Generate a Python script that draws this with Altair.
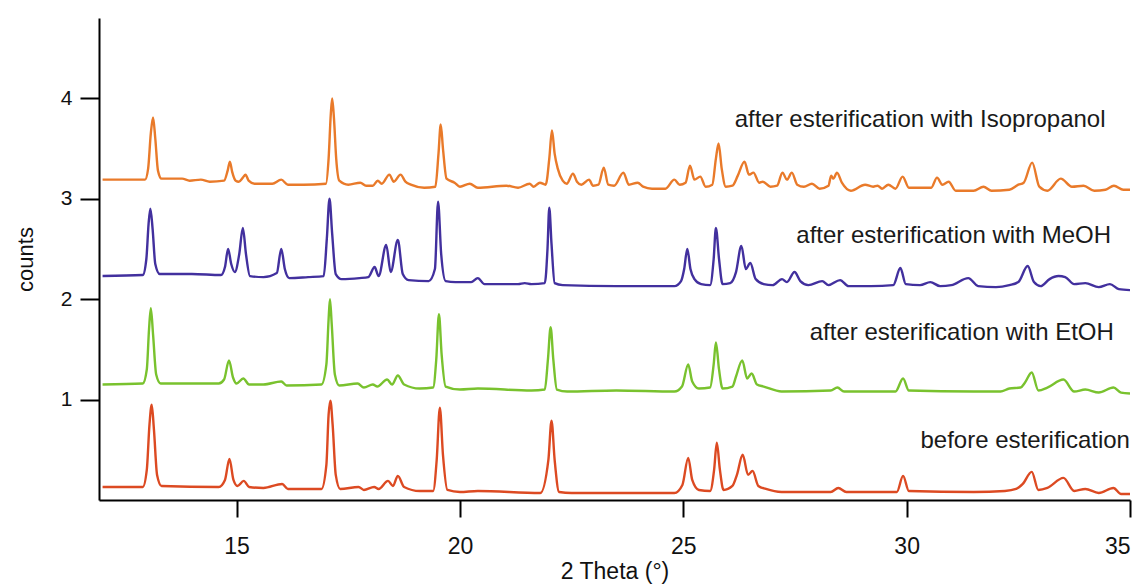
import altair as alt
import pandas as pd

# ---- data (2 Theta in degrees, counts offset per pattern) ----
ISOPROPANOL = [
    (12.00, 3.19), (12.60, 3.19), (12.95, 3.19), (13.02, 3.30), (13.08, 3.65), (13.13, 3.81),
    (13.18, 3.60), (13.24, 3.28), (13.32, 3.20), (13.78, 3.20), (13.95, 3.18), (14.20, 3.19),
    (14.40, 3.17), (14.72, 3.18), (14.80, 3.28), (14.85, 3.37), (14.90, 3.27), (14.98, 3.18),
    (15.05, 3.17), (15.14, 3.21), (15.20, 3.24), (15.27, 3.18), (15.40, 3.15), (15.80, 3.15),
    (16.00, 3.19), (16.15, 3.14), (16.50, 3.14), (17.00, 3.15), (17.06, 3.40), (17.11, 3.85),
    (17.14, 4.00), (17.18, 3.80), (17.23, 3.40), (17.30, 3.18), (17.50, 3.14), (17.77, 3.16),
    (17.90, 3.13), (18.05, 3.13), (18.16, 3.18), (18.25, 3.15), (18.42, 3.24), (18.52, 3.17),
    (18.67, 3.24), (18.78, 3.17), (18.90, 3.14), (19.20, 3.11), (19.45, 3.12), (19.52, 3.45),
    (19.57, 3.74), (19.62, 3.50), (19.70, 3.20), (19.88, 3.16), (20.00, 3.12), (20.22, 3.15),
    (20.40, 3.11), (21.04, 3.13), (21.30, 3.11), (21.56, 3.15), (21.65, 3.12), (21.79, 3.16),
    (21.92, 3.14), (22.00, 3.40), (22.06, 3.68), (22.12, 3.45), (22.19, 3.30), (22.30, 3.18),
    (22.39, 3.15), (22.53, 3.25), (22.62, 3.17), (22.72, 3.14), (22.89, 3.19), (22.98, 3.13),
    (23.10, 3.14), (23.22, 3.31), (23.32, 3.14), (23.45, 3.13), (23.66, 3.26), (23.78, 3.14),
    (23.98, 3.16), (24.10, 3.12), (24.30, 3.10), (24.60, 3.10), (24.80, 3.19), (24.92, 3.14),
    (25.05, 3.16), (25.15, 3.33), (25.25, 3.19), (25.38, 3.22), (25.50, 3.12), (25.65, 3.14),
    (25.73, 3.40), (25.79, 3.55), (25.86, 3.30), (25.95, 3.12), (26.10, 3.13), (26.22, 3.23),
    (26.37, 3.37), (26.47, 3.24), (26.57, 3.26), (26.70, 3.16), (26.78, 3.17), (26.95, 3.12),
    (27.10, 3.13), (27.22, 3.26), (27.32, 3.19), (27.43, 3.26), (27.55, 3.14), (27.70, 3.12),
    (27.88, 3.15), (28.05, 3.10), (28.25, 3.13), (28.31, 3.23), (28.36, 3.20), (28.44, 3.26),
    (28.55, 3.16), (28.75, 3.08), (29.07, 3.14), (29.25, 3.12), (29.35, 3.13), (29.45, 3.10),
    (29.59, 3.14), (29.75, 3.10), (29.91, 3.22), (30.05, 3.11), (30.30, 3.11), (30.55, 3.11),
    (30.68, 3.21), (30.80, 3.14), (30.94, 3.17), (31.10, 3.08), (31.50, 3.08), (31.72, 3.12),
    (31.90, 3.08), (32.30, 3.09), (32.50, 3.14), (32.62, 3.16), (32.81, 3.36), (32.97, 3.12),
    (33.15, 3.08), (33.45, 3.20), (33.70, 3.12), (33.96, 3.13), (34.20, 3.08), (34.45, 3.09),
    (34.64, 3.13), (34.85, 3.09), (35.00, 3.09),
]

MEOH = [
    (12.00, 2.23), (12.90, 2.24), (12.98, 2.40), (13.03, 2.75), (13.07, 2.90), (13.12, 2.70),
    (13.18, 2.35), (13.28, 2.25), (14.00, 2.25), (14.65, 2.24), (14.74, 2.32), (14.81, 2.50),
    (14.88, 2.35), (14.96, 2.27), (15.06, 2.45), (15.14, 2.71), (15.21, 2.45), (15.30, 2.23),
    (15.60, 2.22), (15.90, 2.26), (16.00, 2.50), (16.08, 2.30), (16.18, 2.21), (16.60, 2.22),
    (16.95, 2.23), (17.02, 2.60), (17.08, 3.00), (17.14, 2.65), (17.22, 2.25), (17.35, 2.20),
    (17.75, 2.21), (17.95, 2.22), (18.09, 2.32), (18.18, 2.23), (18.35, 2.54), (18.45, 2.27),
    (18.61, 2.59), (18.72, 2.25), (18.85, 2.19), (19.30, 2.18), (19.44, 2.30), (19.51, 2.97),
    (19.58, 2.45), (19.68, 2.18), (19.90, 2.17), (20.25, 2.17), (20.40, 2.21), (20.55, 2.15),
    (21.30, 2.15), (21.45, 2.16), (21.60, 2.15), (21.90, 2.16), (21.96, 2.50), (22.00, 2.91),
    (22.05, 2.55), (22.12, 2.16), (22.30, 2.14), (23.50, 2.13), (24.80, 2.13), (24.95, 2.18),
    (25.02, 2.30), (25.09, 2.50), (25.16, 2.30), (25.25, 2.20), (25.40, 2.15), (25.60, 2.14),
    (25.68, 2.40), (25.73, 2.71), (25.80, 2.40), (25.88, 2.15), (26.05, 2.16), (26.18, 2.27),
    (26.30, 2.53), (26.40, 2.30), (26.50, 2.36), (26.62, 2.20), (26.80, 2.15), (27.00, 2.14),
    (27.21, 2.20), (27.32, 2.17), (27.49, 2.27), (27.62, 2.18), (27.80, 2.14), (28.11, 2.18),
    (28.25, 2.14), (28.51, 2.19), (28.70, 2.13), (29.20, 2.13), (29.70, 2.14), (29.86, 2.31),
    (29.98, 2.15), (30.30, 2.14), (30.53, 2.17), (30.75, 2.13), (31.00, 2.14), (31.38, 2.21),
    (31.60, 2.13), (32.00, 2.12), (32.30, 2.14), (32.50, 2.17), (32.71, 2.33), (32.85, 2.17),
    (33.00, 2.13), (33.20, 2.20), (33.40, 2.23), (33.55, 2.22), (33.75, 2.15), (34.00, 2.16),
    (34.30, 2.12), (34.55, 2.15), (34.75, 2.10), (35.00, 2.09),
]

ETOH = [
    (12.00, 1.15), (12.90, 1.16), (12.99, 1.30), (13.04, 1.70), (13.08, 1.91), (13.13, 1.65),
    (13.20, 1.25), (13.30, 1.16), (14.60, 1.16), (14.72, 1.20), (14.83, 1.39), (14.92, 1.22),
    (15.00, 1.16), (15.15, 1.21), (15.28, 1.15), (15.60, 1.15), (16.00, 1.18), (16.12, 1.14),
    (16.90, 1.15), (17.01, 1.35), (17.06, 1.80), (17.09, 2.00), (17.13, 1.75), (17.20, 1.25),
    (17.30, 1.14), (17.71, 1.16), (17.85, 1.12), (18.05, 1.15), (18.15, 1.13), (18.37, 1.20),
    (18.48, 1.15), (18.61, 1.24), (18.75, 1.15), (19.10, 1.11), (19.40, 1.12), (19.47, 1.40),
    (19.53, 1.85), (19.59, 1.45), (19.68, 1.13), (20.00, 1.10), (20.40, 1.11), (21.60, 1.09),
    (21.90, 1.10), (21.97, 1.40), (22.03, 1.72), (22.09, 1.40), (22.17, 1.10), (22.40, 1.08),
    (23.50, 1.09), (24.80, 1.08), (24.97, 1.13), (25.11, 1.35), (25.20, 1.18), (25.35, 1.11),
    (25.60, 1.12), (25.68, 1.35), (25.73, 1.57), (25.80, 1.30), (25.88, 1.11), (26.10, 1.13),
    (26.18, 1.23), (26.32, 1.39), (26.43, 1.21), (26.53, 1.26), (26.65, 1.15), (26.80, 1.13),
    (27.20, 1.08), (28.30, 1.09), (28.45, 1.12), (28.60, 1.08), (29.75, 1.08), (29.92, 1.21),
    (30.05, 1.09), (31.50, 1.08), (32.10, 1.08), (32.30, 1.11), (32.55, 1.12), (32.65, 1.17),
    (32.80, 1.27), (32.95, 1.09), (33.15, 1.12), (33.51, 1.20), (33.75, 1.08), (34.00, 1.10),
    (34.30, 1.07), (34.63, 1.12), (34.80, 1.07), (35.00, 1.06),
]

BEFORE = [
    (12.00, 0.13), (12.90, 0.13), (12.99, 0.30), (13.05, 0.75), (13.10, 0.95), (13.15, 0.70),
    (13.22, 0.25), (13.32, 0.14), (14.60, 0.13), (14.74, 0.20), (14.84, 0.41), (14.93, 0.20),
    (15.02, 0.14), (15.16, 0.19), (15.28, 0.13), (15.60, 0.12), (16.02, 0.16), (16.15, 0.11),
    (16.90, 0.11), (17.01, 0.35), (17.06, 0.85), (17.10, 0.99), (17.15, 0.75), (17.22, 0.25),
    (17.32, 0.11), (17.73, 0.13), (17.85, 0.10), (18.08, 0.13), (18.18, 0.11), (18.39, 0.19),
    (18.50, 0.14), (18.61, 0.24), (18.75, 0.13), (19.10, 0.09), (19.40, 0.09), (19.48, 0.40),
    (19.55, 0.92), (19.62, 0.45), (19.72, 0.10), (20.00, 0.08), (20.40, 0.09), (21.80, 0.07),
    (21.98, 0.40), (22.05, 0.79), (22.12, 0.40), (22.22, 0.08), (22.50, 0.07), (24.80, 0.07),
    (24.98, 0.15), (25.11, 0.42), (25.20, 0.20), (25.35, 0.10), (25.60, 0.09), (25.69, 0.30),
    (25.75, 0.57), (25.82, 0.30), (25.90, 0.10), (26.10, 0.14), (26.20, 0.25), (26.33, 0.45),
    (26.45, 0.25), (26.55, 0.29), (26.68, 0.14), (26.85, 0.11), (27.20, 0.08), (28.30, 0.08),
    (28.47, 0.12), (28.65, 0.08), (29.78, 0.08), (29.92, 0.24), (30.05, 0.09), (31.50, 0.08),
    (32.20, 0.09), (32.45, 0.11), (32.60, 0.16), (32.80, 0.28), (32.95, 0.10), (33.15, 0.12),
    (33.51, 0.22), (33.75, 0.09), (34.00, 0.11), (34.30, 0.07), (34.63, 0.12), (34.80, 0.06),
    (35.00, 0.06),
]

SERIES_NAMES = ["isopropanol", "meoh", "etoh", "before"]
SERIES_COLORS = ["#E97A2A", "#42309E", "#79C22E", "#DC4A22"]

LABEL_TEXTS = [
    "after esterification with Isopropanol",
    "after esterification with MeOH",
    "after esterification with EtOH",
    "before esterification",
]
LABEL_X = [26.15, 27.53, 27.83, 30.31]
LABEL_Y = [3.714, 2.557, 1.595, 0.52]

X_TICKS = [15, 20, 25, 30, 35]
Y_TICKS = [1, 2, 3, 4]

# ---- build tables ----
rows = []
for name, pts in zip(SERIES_NAMES, [ISOPROPANOL, MEOH, ETOH, BEFORE]):
    for i, (x, y) in enumerate(pts):
        rows.append({"series": name, "order": i, "theta": x, "counts": y})
df = pd.DataFrame(rows)
labels = pd.DataFrame({"text": LABEL_TEXTS, "theta": LABEL_X, "counts": LABEL_Y})

FONT = "Liberation Sans"

x_scale = alt.Scale(domain=[11.92, 35.0], nice=False, zero=False)
y_scale = alt.Scale(domain=[0, 4.8], nice=False, zero=False)

lines = alt.Chart(df).mark_line(strokeWidth=2.4, interpolate="monotone", clip=True).encode(
    x=alt.X(
        "theta:Q",
        scale=x_scale,
        axis=alt.Axis(
            values=X_TICKS,
            format="d",
            title="2 Theta (°)",
            titleFontSize=23,
            titleFontWeight="normal",
            titleFont=FONT,
            titleColor="#111111",
            titleY=71,
            titleBaseline="middle",
            labelFontSize=23,
            labelPadding=18,
            tickSize=17,
            grid=False,
        ),
    ),
    y=alt.Y(
        "counts:Q",
        scale=y_scale,
        axis=alt.Axis(
            values=Y_TICKS,
            format="d",
            title="counts",
            titleFontSize=22,
            titleFontWeight="normal",
            titleFont=FONT,
            titleColor="#111111",
            titleX=-74,
            titleY=241,
            titleBaseline="middle",
            titleAlign="center",
            labelFontSize=21,
            labelPadding=8,
            tickSize=19,
            grid=False,
        ),
    ),
    color=alt.Color(
        "series:N",
        scale=alt.Scale(domain=SERIES_NAMES, range=SERIES_COLORS),
        legend=None,
    ),
    order="order:Q",
)

texts = alt.Chart(labels).mark_text(
    align="left", baseline="alphabetic", fontSize=24, font=FONT, color="#1a1a1a"
).encode(
    x=alt.X("theta:Q", scale=x_scale),
    y=alt.Y("counts:Q", scale=y_scale),
    text="text:N",
)

chart = (
    alt.layer(lines, texts)
    .properties(
        width=1031,
        height=482,
        autosize=alt.AutoSizeParams(type="none"),
        padding={"left": 99, "top": 18, "right": 15, "bottom": 86},
        background="white",
    )
    .configure_view(stroke=None)
    .configure_axis(
        domainColor="black",
        domainWidth=2,
        tickColor="black",
        tickWidth=2,
        labelFont=FONT,
        labelColor="#111111",
    )
)

chart.save("out.html", embed_options={"renderer": "svg", "actions": False})
